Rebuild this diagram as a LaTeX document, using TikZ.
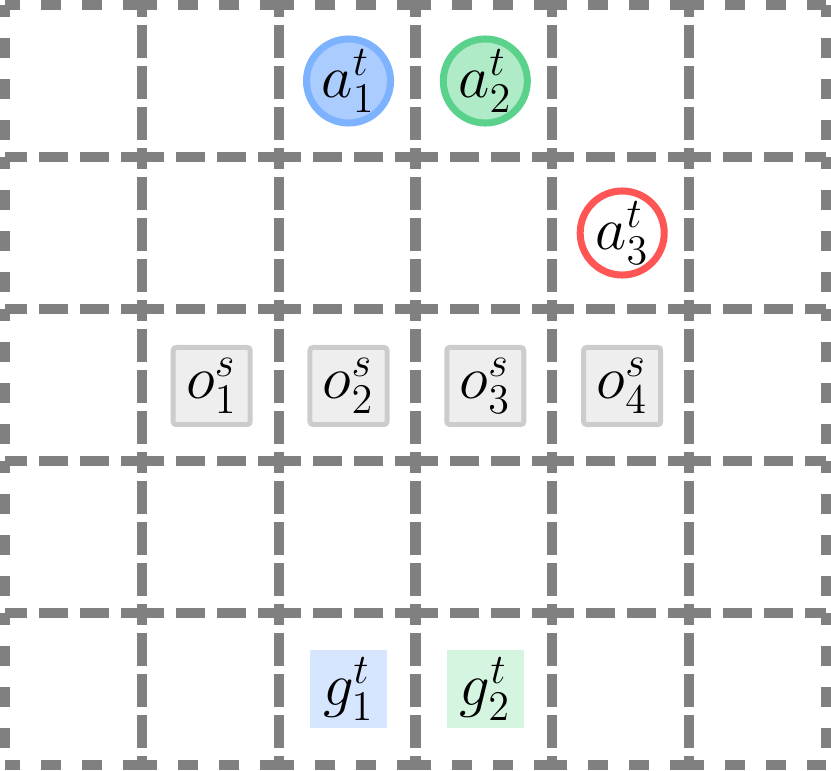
\documentclass[tikz,border=0pt]{standalone}
\usepackage{xcolor}
\definecolor{gridgray}{RGB}{128,128,128}
\definecolor{blueline}{RGB}{125,178,255}
\definecolor{bluefill}{RGB}{170,204,255}
\definecolor{greenline}{RGB}{90,210,140}
\definecolor{greenfill}{RGB}{176,235,200}
\definecolor{redline}{RGB}{255,85,85}
\definecolor{obsline}{RGB}{204,204,204}
\definecolor{obsfill}{RGB}{238,238,238}
\definecolor{goalblue}{RGB}{214,230,255}
\definecolor{goalgreen}{RGB}{214,245,225}
\begin{document}
\begin{tikzpicture}[
    x=0.01cm, y=-0.01cm,
    gridline/.style={draw=gridgray, line width=1mm},
    hinner/.style={gridline, dash pattern=on 2.9mm off 1.2mm, dash phase=0.7mm},
    vinner/.style={gridline, dash pattern=on 3.3mm off 0.8mm, dash phase=2.1mm},
    hborder/.style={gridline, dash pattern=on 2mm off 2.1mm, dash phase=0.5mm},
    vborder/.style={gridline, dash pattern=on 2mm off 2.1mm, dash phase=0.8mm},
    agent/.style={circle, line width=0.7mm, minimum size=8.4mm, inner sep=0pt, font=\LARGE},
    obstacle/.style={rectangle, rounded corners=0.3mm, draw=obsline, fill=obsfill, line width=0.5mm, minimum size=7.7mm, inner sep=0pt, font=\LARGE},
    goal/.style={rectangle, minimum size=7.7mm, inner sep=0pt, font=\LARGE}
]
    \useasboundingbox (0,0) rectangle (831,770);
    \foreach \i in {0,...,5} {
        \draw[hborder] ({5+136.83*\i},5) -- ({5+136.83*(\i+1)},5);
        \draw[hborder] ({5+136.83*\i},765) -- ({5+136.83*(\i+1)},765);
        \foreach \j in {1,...,4}
            \draw[hinner] ({5+136.83*\i},{5+152*\j}) -- ({5+136.83*(\i+1)},{5+152*\j});
    }
    \foreach \j in {0,...,4} {
        \draw[vborder] (5,{5+152*\j}) -- (5,{5+152*(\j+1)});
        \draw[vborder] (826,{5+152*\j}) -- (826,{5+152*(\j+1)});
        \foreach \i in {1,...,5}
            \draw[vinner] ({5+136.83*\i},{5+152*\j}) -- ({5+136.83*\i},{5+152*(\j+1)});
    }

    \node[agent, draw=blueline, fill=bluefill] (a1) at (348.5,81) {$a_1^t$};
    \node[agent, draw=greenline, fill=greenfill] (a2) at (485.3,81) {$a_2^t$};
    \node[agent, draw=redline, fill=white] (a3) at (622.2,233) {$a_3^t$};

    \node[obstacle] (o1) at (211.7,386) {$o_1^s$};
    \node[obstacle] (o2) at (348.5,386) {$o_2^s$};
    \node[obstacle] (o3) at (485.3,386) {$o_3^s$};
    \node[obstacle] (o4) at (622.2,386) {$o_4^s$};

    \node[goal, fill=goalblue] (g1) at (348.5,689) {$g_1^t$};
    \node[goal, fill=goalgreen] (g2) at (485.3,689) {$g_2^t$};
\end{tikzpicture}
\end{document}
